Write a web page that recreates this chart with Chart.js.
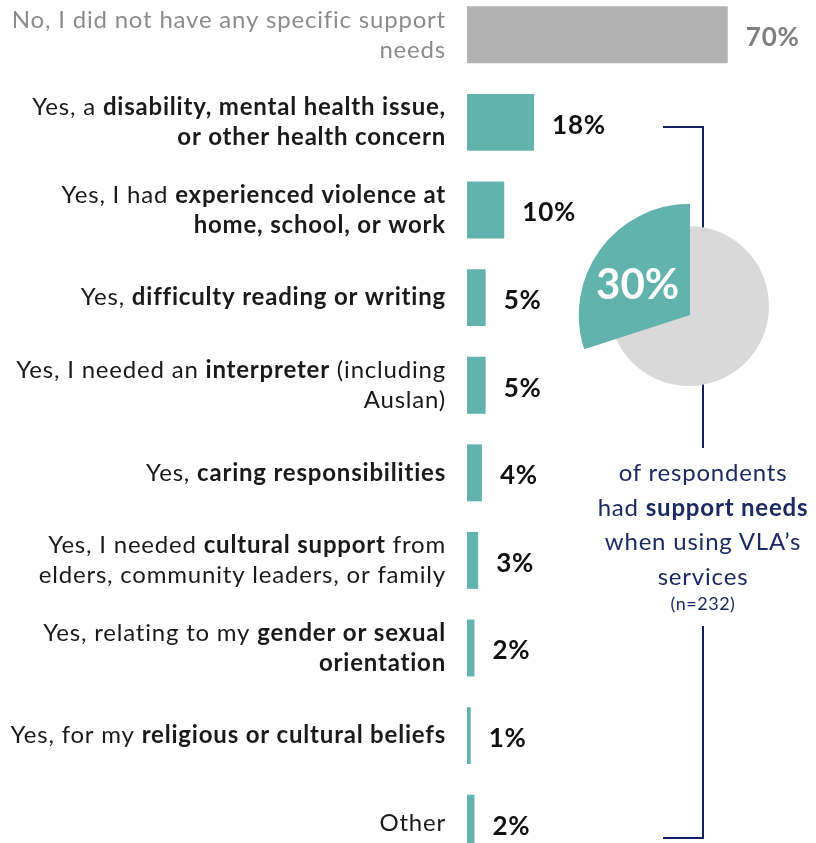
<!DOCTYPE html>
<html>
<head>
<meta charset="utf-8">
<script src="https://cdn.jsdelivr.net/npm/chart.js@4.4.1/dist/chart.umd.min.js"></script>
<style>
  html, body { margin: 0; padding: 0; background: #fff; overflow: hidden; }
  #wrap { position: relative; width: 816px; height: 843px; overflow: hidden; }
  #barChart { position: absolute; left: 0; top: -9px; }
  #pieChart { position: absolute; left: 569px; top: 186px; }
  .bracket { position: absolute; border-color: #0f2160; border-style: solid; border-width: 0; }
  #caption {
    position: absolute; left: 563px; top: 455px; width: 280px;
    text-align: center; color: #1b2a63;
    font-family: Lato, "Open Sans", sans-serif; font-size: 24px; line-height: 34.5px;
    letter-spacing: 0.8px;
  }
  #caption .n { font-size: 18px; line-height: 22px; letter-spacing: 0.5px; display: block; margin-top: -1px; }
</style>
</head>
<body>
<div id="wrap">
  <canvas id="barChart" width="816" height="876"></canvas>
  <!-- bracket around the pie and caption -->
  <div class="bracket" style="left:663px; top:126px; width:39px; height:320px; border-top-width:2px; border-right-width:2px;"></div>
  <div class="bracket" style="left:663px; top:626px; width:39px; height:211px; border-bottom-width:2px; border-right-width:2px;"></div>
  <canvas id="pieChart" width="240" height="240"></canvas>
  <div id="caption">of respondents<br>had <b>support needs</b><br>when using VLA’s<br>services<span class="n">(n=232)</span></div>
</div>
<script>
// Categories: "\n" splits lines, **...** marks bold text
const categories = [
    "No, I did not have any specific support\nneeds",
    "Yes, a **disability, mental health issue,**\n**or other health concern**",
    "Yes, I had **experienced violence at**\n**home, school, or work**",
    "Yes, **difficulty reading or writing**",
    "Yes, I needed an **interpreter** (including\nAuslan)",
    "Yes, **caring responsibilities**",
    "Yes, I needed **cultural support** from\nelders, community leaders, or family",
    "Yes, relating to my **gender or sexual**\n**orientation**",
    "Yes, for my **religious or cultural beliefs**",
    "Other"
];
const shares = [70, 18, 10, 5, 5, 4, 3, 2, 1, 2];

const pieLabels = ["No specific support needs", "Had support needs"];
const pieValues = [70, 30];

document.addEventListener("DOMContentLoaded", function() {
    const TEAL = '#62b2ad';
    const GREY_BAR = '#b2b2b2';
    const FONT = 'Lato, "Open Sans", sans-serif';

    // Split a category into lines of {text, bold} runs
    function parseLabel(label) {
        return label.split('\n').map(line => {
            const parts = line.split('**');
            return parts.map((t, i) => ({ text: t, bold: i % 2 === 1 })).filter(p => p.text.length);
        });
    }

    const sideLabels = {
        id: 'sideLabels',
        afterDatasetsDraw(chart) {
            const ctx = chart.ctx;
            const yScale = chart.scales.y;
            const xScale = chart.scales.x;
            const right = chart.chartArea.left - 21;
            const lineHeight = 30;
            ctx.save();
            ctx.textBaseline = 'middle';
            ctx.letterSpacing = '0.8px';
            categories.forEach((label, i) => {
                const y = yScale.getPixelForValue(i);
                const lines = parseLabel(label);
                ctx.fillStyle = i === 0 ? '#8c8c8c' : '#1a1a1a';
                lines.forEach((runs, li) => {
                    const ly = y + (li - (lines.length - 1) / 2) * lineHeight;
                    let total = 0;
                    runs.forEach(r => {
                        ctx.font = (r.bold ? 'bold ' : '') + '24px ' + FONT;
                        r.w = ctx.measureText(r.text).width;
                        total += r.w;
                    });
                    let x = right - total;
                    ctx.textAlign = 'left';
                    runs.forEach(r => {
                        ctx.font = (r.bold ? 'bold ' : '') + '24px ' + FONT;
                        ctx.fillText(r.text, x, ly);
                        x += r.w;
                    });
                });

                // value at the end of the bar
                ctx.font = 'bold 26px ' + FONT;
                ctx.fillStyle = i === 0 ? '#7f7f7f' : '#111';
                ctx.textAlign = 'left';
                ctx.fillText(shares[i] + '%', xScale.getPixelForValue(shares[i]) + 18, y + 3);
            });
            ctx.restore();
        }
    };

    new Chart(document.getElementById('barChart').getContext('2d'), {
        type: 'bar',
        data: {
            labels: categories,
            datasets: [{
                data: shares,
                backgroundColor: categories.map((c, i) => i === 0 ? GREY_BAR : TEAL),
                barPercentage: 0.65,
                categoryPercentage: 1
            }]
        },
        options: {
            indexAxis: 'y',
            responsive: false,
            animation: false,
            layout: { padding: { left: 467, right: 51, top: 0, bottom: 0 } },
            scales: {
                x: { display: false, min: 0, max: 80 },
                y: { display: false }
            },
            plugins: {
                legend: { display: false },
                tooltip: { enabled: false }
            }
        },
        plugins: [sideLabels]
    });

    // The "had support needs" slice is drawn larger and pulled out
    const bigSlice = {
        id: 'bigSlice',
        afterDatasetsUpdate(chart) {
            const arc = chart.getDatasetMeta(0).data[1];
            arc.outerRadius = arc.outerRadius * 1.39;
            arc.x += 1;
            arc.y += 9;
        },
        afterDatasetsDraw(chart) {
            const arc = chart.getDatasetMeta(0).data[1];
            const mid = (arc.startAngle + arc.endAngle) / 2;
            const d = arc.outerRadius * 0.56;
            const ctx = chart.ctx;
            ctx.save();
            ctx.font = 'bold 42px ' + FONT;
            ctx.fillStyle = '#fff';
            ctx.textAlign = 'center';
            ctx.textBaseline = 'middle';
            ctx.fillText(pieValues[1] + '%', arc.x + Math.cos(mid) * d - 2, arc.y + Math.sin(mid) * d + 7);
            ctx.restore();
        }
    };

    new Chart(document.getElementById('pieChart').getContext('2d'), {
        type: 'pie',
        data: {
            labels: pieLabels,
            datasets: [{
                data: pieValues,
                backgroundColor: ['#d9d9d9', TEAL],
                borderWidth: 0,
                clip: false
            }]
        },
        options: {
            responsive: false,
            animation: false,
            layout: { padding: 40 },
            plugins: {
                legend: { display: false },
                tooltip: { enabled: false }
            }
        },
        plugins: [bigSlice]
    });
});
</script>
</body>
</html>
